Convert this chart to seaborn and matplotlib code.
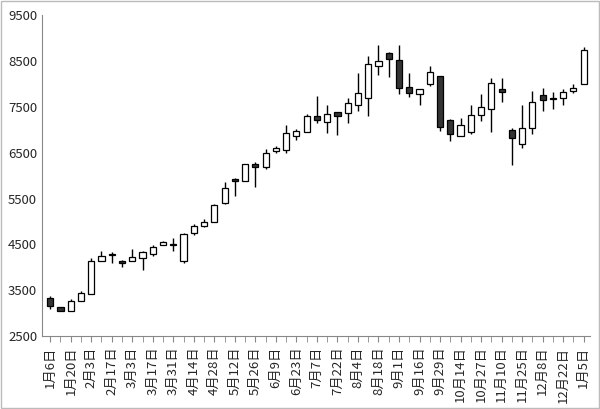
import numpy as np
import matplotlib
matplotlib.use("Agg")
import matplotlib.pyplot as plt
import seaborn as sns

opens = [3330, 3130, 3050, 3260, 3420, 4150, 4280, 4150, 4150, 4200, 4300, 4480, 4480, 4150, 4750, 4900,
         4980, 5400, 5920, 5880, 6250, 6180, 6530, 6560, 6860, 6950, 7300, 7180, 7380, 7360, 7550, 7700,
         8400, 8680, 8520, 7930, 7780, 8000, 8170, 7220, 6860, 6950, 7330, 7450, 7880, 7000, 6700, 7030,
         7760, 7680, 7690, 7850, 8000]
closes = [3150, 3050, 3260, 3450, 4150, 4250, 4300, 4100, 4220, 4330, 4450, 4550, 4500, 4720, 4900, 4980,
          5360, 5740, 5890, 6250, 6180, 6490, 6600, 6920, 6970, 7300, 7220, 7350, 7310, 7580, 7800, 8430,
          8500, 8540, 7920, 7800, 7880, 8250, 7070, 6910, 7100, 7320, 7490, 8010, 7830, 6830, 7030, 7600,
          7660, 7670, 7830, 7920, 8730]
highs = [3370, 3140, 3310, 3480, 4200, 4350, 4340, 4170, 4400, 4350, 4480, 4580, 4650, 4750, 4950, 5050,
         5380, 5870, 5950, 6250, 6300, 6580, 6650, 7100, 7020, 7350, 7730, 7530, 7380, 7700, 8230, 8600,
         8850, 8700, 8850, 8230, 7900, 8400, 8170, 7230, 7250, 7550, 7780, 8120, 8130, 7050, 7550, 7850,
         7910, 7820, 7880, 8000, 8800]
lows = [3100, 3040, 3040, 3260, 3420, 4130, 4100, 4000, 4130, 3950, 4250, 4500, 4350, 4100, 4700, 4880,
        4980, 5380, 5550, 5880, 5750, 6150, 6500, 6500, 6780, 6950, 7140, 6920, 6880, 7150, 7400, 7300,
        8200, 8150, 7780, 7710, 7530, 7960, 6980, 6760, 6860, 6900, 7200, 6950, 7600, 6230, 6600, 6900,
        7400, 7460, 7550, 7800, 8000]
labels = ["1月6日", "1月20日", "2月3日", "2月17日", "3月3日", "3月17日", "3月31日", "4月14日", "4月28日",
          "5月12日", "5月26日", "6月9日", "6月23日", "7月7日", "7月22日", "8月4日", "8月18日", "9月1日",
          "9月16日", "9月29日", "10月14日", "10月27日", "11月10日", "11月25日", "12月8日", "12月22日", "1月5日"]

sns.set_style("white")
plt.rcParams['font.family'] = ['Noto Sans CJK SC', 'DejaVu Sans']

fig = plt.figure(figsize=(6.0, 4.09), dpi=100)
ax = fig.add_axes([0.07, 0.178, 0.913, 0.785])

x = np.arange(len(opens))
o = np.array(opens); c = np.array(closes)
ax.vlines(x, lows, highs, color="black", lw=1, zorder=1)
up = c >= o
bottom = np.minimum(o, c)
height = np.maximum(np.abs(c - o), 15)
colors = np.where(up, "white", "#333333")
ax.bar(x, height, bottom=bottom, width=0.6, color=colors, edgecolor="black", linewidth=0.9, zorder=2)

ax.set_ylim(2500, 9500)
ax.set_yticks(range(2500, 9501, 1000))
ax.set_xlim(-0.8, len(opens) - 0.4)
ax.set_xticks(x[::2])
ax.set_xticklabels(labels, rotation=90, fontsize=9.5)
ax.set_xticks(x, minor=True)
ax.tick_params(axis="x", which="both", direction="out", length=4, bottom=True, color="#888888")
ax.tick_params(axis="y", labelsize=9.5, length=0)
for side in ["top", "right"]:
    ax.spines[side].set_visible(False)
for side in ["left", "bottom"]:
    ax.spines[side].set_color("#888888")

fig.patches.append(plt.Rectangle((0.002, 0.002), 0.996, 0.996, transform=fig.transFigure,
                                 fill=False, edgecolor="#bbbbbb", lw=1))
fig.savefig("out.png", dpi=100)
